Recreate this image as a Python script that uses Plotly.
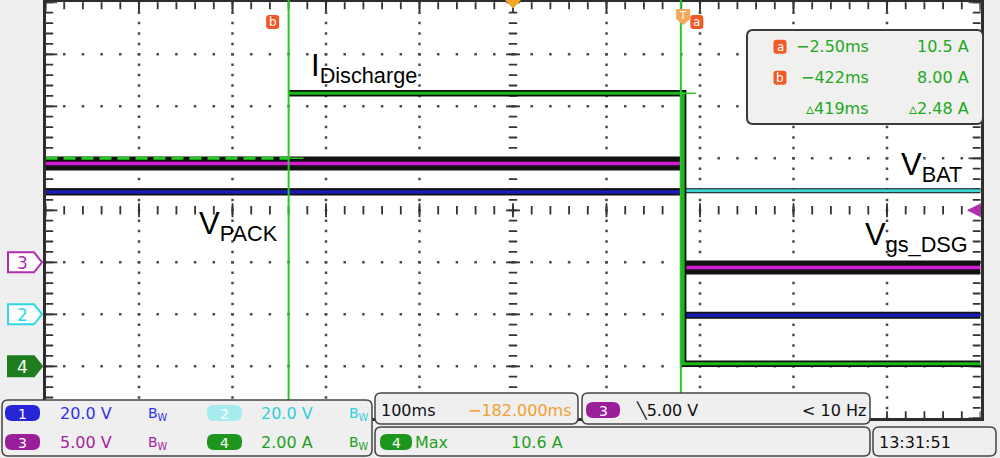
import numpy as np
import plotly.graph_objects as go

W, H = 1000, 458

# time base (ms)
time_per_div = 100
delay_ms = -182.0
t_left = delay_ms - 5 * time_per_div
t_right = delay_ms + 5 * time_per_div

# channel scale (per div) and ground position (div from centre)
ch1_scale, ch1_pos = 20.0, -2
ch2_scale, ch2_pos = 20.0, -2
ch3_scale, ch3_pos = 5.0, -1
ch4_scale, ch4_pos = 2.0, -3

# waveforms (step points, held until the next time)
t_pack = [t_left, 0.0, t_right]
v_pack = [47.0, -0.4, -0.4]
t_bat = [t_left, t_right]
v_bat = [47.5, 47.5]
t_gs = [t_left, 0.0, t_right]
v_gs = [9.5, -0.5, -0.5]
t_dis = [t_left, -422.0, 0.0, t_right]
i_dis = [8.0, 10.5, 0.1, 0.1]

# cursors a / b and their readout
cursor_t = [-2.5, -422.0]
cursor_i = [10.5, 8.0]
cursor_dt = 419
cursor_di = 2.48
trig_level = 5.0
i_max = 10.6

# screen geometry in pixels
GX0, GX1 = 45.5, 980.5
GY0, GY1 = 2.3, 418.3
DIV_PX = (GY1 - GY0) / 8


def px(x):
    return x / W


def py(y):
    return 1 - y / H


def div_to_py(d):
    return GY0 + (4 - d) * DIV_PX


def t_to_px(t):
    return GX0 + (t - t_left) / (t_right - t_left) * (GX1 - GX0)


def rrect(x0, y0, x1, y1, r):
    pts = [('M', x0 + r, y0), ('L', x1 - r, y0), ('Q', x1, y0, x1, y0 + r), ('L', x1, y1 - r),
           ('Q', x1, y1, x1 - r, y1), ('L', x0 + r, y1), ('Q', x0, y1, x0, y1 - r), ('L', x0, y0 + r),
           ('Q', x0, y0, x0 + r, y0)]
    s = ''
    for p in pts:
        coords = p[1:]
        s += p[0] + ' ' + ' '.join(f'{px(coords[i])},{py(coords[i + 1])}' for i in range(0, len(coords), 2)) + ' '
    return s + 'Z'


def poly(points):
    return 'M ' + ' L '.join(f'{px(x)},{py(y)}' for x, y in points) + ' Z'


def yr(scale, pos):
    return [scale * (-4 - pos), scale * (4 - pos)]


fig = go.Figure()


def marks(x, y, symbol, size, width=1.8, color='#333'):
    fig.add_trace(go.Scatter(x=list(x), y=list(y), mode='markers', hoverinfo='skip', showlegend=False,
                             marker=dict(symbol=symbol, size=size, color=color, line=dict(width=width, color=color))))


# graticule dots
majors_t = [delay_ms + k * time_per_div for k in range(-4, 5) if k != 0]
majors_d = [d for d in range(-3, 4) if d != 0]
minor_t = np.arange(t_left, t_right + 0.1, time_per_div / 5)
minor_d = np.arange(-4, 4.01, 0.2)
dx, dy = [], []
for t in majors_t:
    dx += [t] * len(minor_d)
    dy += list(minor_d)
for d in majors_d:
    dx += list(minor_t)
    dy += [d] * len(minor_t)
marks(dx, dy, 'square', 2.5, 0, '#4a4a4a')

# centre-line ticks
all_major_t = [delay_ms + k * time_per_div for k in range(-5, 6)]
all_major_d = list(range(-4, 5))
marks(minor_t, [0] * len(minor_t), 'line-ns', 6)
marks([delay_ms] * len(minor_d), minor_d, 'line-ew', 6)
marks(all_major_t, [0] * len(all_major_t), 'line-ns', 10)
marks([delay_ms] * len(all_major_d), all_major_d, 'line-ew', 10)

# border ticks (markers centred on the frame, clipped to the screen)
marks(minor_t, [4] * len(minor_t), 'line-ns', 10)
marks(minor_t, [-4] * len(minor_t), 'line-ns', 10)
marks([t_left] * len(minor_d), minor_d, 'line-ew', 11)
marks([t_right] * len(minor_d), minor_d, 'line-ew', 11)
marks([t_left] * len(all_major_d), all_major_d, 'line-ew', 17)
marks([t_right] * len(all_major_d), all_major_d, 'line-ew', 17)
marks(all_major_t, [4] * len(all_major_t), 'line-ns', 14)


def flat_segments(t, v):
    # horizontal pieces of a step trace, without the vertical edges
    xs, ys = [], []
    for i in range(len(t) - 1):
        xs += [t[i], t[i + 1], None]
        ys += [v[i], v[i], None]
    return xs, ys


def wave(t, v, axis, color, w_core, w_edge, edge_verticals=False):
    if edge_verticals:
        fig.add_trace(go.Scatter(x=t, y=v, yaxis=axis, mode='lines', line_shape='hv', showlegend=False,
                                 line=dict(color='#111', width=w_edge), hoverinfo='skip'))
    else:
        xs, ys = flat_segments(t, v)
        fig.add_trace(go.Scatter(x=xs, y=ys, yaxis=axis, mode='lines', showlegend=False,
                                 line=dict(color='#111', width=w_edge), hoverinfo='skip', connectgaps=False))
    fig.add_trace(go.Scatter(x=t, y=v, yaxis=axis, mode='lines', line_shape='hv', showlegend=False,
                             line=dict(color=color, width=w_core)))


wave(t_bat, v_bat, 'y2', '#3ad6d6', 3, 5)
wave(t_pack, v_pack, 'y2', '#1a1ab8', 3.5, 7)
wave(t_gs, v_gs, 'y3', '#d21ed2', 3.5, 14)
# ch4 after the step at cursor b, then the part before it as a dashed line over the ch3 band
wave(t_dis[1:], i_dis[1:], 'y4', '#18b818', 3, 6.5, edge_verticals=True)
fig.add_trace(go.Scatter(x=t_dis[:2], y=i_dis[:1] * 2, yaxis='y4', mode='lines', showlegend=False, hoverinfo='skip',
                         line=dict(color='#22cc22', width=3, dash='12px,6px')))

shapes = []
# cursor lines and their short horizontal markers
for ct, ci in zip(cursor_t, cursor_i):
    shapes.append(dict(type='line', xref='x', yref='paper', x0=ct, x1=ct, y0=py(400), y1=1,
                       line=dict(color='#2ec42e', width=2), layer='above'))
    shapes.append(dict(type='line', xref='x', yref='y4', x0=ct, x1=ct + 16, y0=ci, y1=ci,
                       line=dict(color='#2ec42e', width=1.5), layer='above'))

# top markers: horizontal position triangle and trigger T
xc = t_to_px(delay_ms)
shapes.append(dict(type='path', xref='paper', yref='paper', path=poly([(xc - 8, 0), (xc + 8, 0), (xc, 8.5)]),
                   fillcolor='#f5a623', line=dict(width=0), layer='above'))
xt = t_to_px(0)
shapes.append(dict(type='path', xref='paper', yref='paper',
                   path=poly([(xt - 7, 9), (xt + 7, 9), (xt + 7, 19), (xt, 25), (xt - 7, 19)]),
                   fillcolor='#f4a85a', line=dict(width=0), layer='above'))

# readout box
shapes.append(dict(type='path', xref='paper', yref='paper', path=rrect(747, 30, 983, 124, 6),
                   fillcolor='#f0f0ee', line=dict(color='#3a3a3a', width=2), layer='above'))

# cursor icons
icon_pos = [(t_to_px(cursor_t[0]) + 16, 22, 'a'), (t_to_px(cursor_t[1]) - 16, 22, 'b'),
            (780, 46.7, 'a'), (780, 77.7, 'b')]
for xi, yi, lab in icon_pos:
    shapes.append(dict(type='path', xref='paper', yref='paper', path=rrect(xi - 6.5, yi - 7, xi + 6.5, yi + 7, 3),
                       fillcolor='#f15a24', line=dict(width=0), layer='above'))

# channel ground markers on the left
gnd_markers = [(ch3_pos, '#b02cb0', False, '3'), (ch2_pos, '#2fd8e0', False, '2'), (ch4_pos, '#1e7e1e', True, '4')]
for pos, col, filled, lab in gnd_markers:
    yc = div_to_py(pos)
    shapes.append(dict(type='path', xref='paper', yref='paper',
                       path=poly([(8, yc - 10), (34, yc - 10), (42, yc), (34, yc + 10), (8, yc + 10)]),
                       fillcolor=col if filled else '#ffffff', line=dict(color=col, width=2), layer='above'))

# bottom readout panels
for x0, y0, x1, y1 in [(2, 400, 372, 456), (375, 393, 578, 424), (582, 393, 870, 424), (375, 427, 870, 456),
                       (873, 427, 996, 456)]:
    shapes.append(dict(type='path', xref='paper', yref='paper', path=rrect(x0, y0, x1, y1, 6),
                       fillcolor='#efefef', line=dict(color='#444', width=1.5), layer='above'))

pills = [(5, 405, 40, 421, '#2626d6', '1'), (207, 405, 242, 421, '#a6ecee', '2'),
         (5, 434, 40, 450, '#9a1f9a', '3'), (207, 434, 242, 450, '#1d961d', '4'),
         (586, 402, 620, 418, '#9a1f9a', '3'), (380, 434, 412, 450, '#1d961d', '4')]
for x0, y0, x1, y1, col, lab in pills:
    shapes.append(dict(type='path', xref='paper', yref='paper', path=rrect(x0, y0, x1, y1, 7),
                       fillcolor=col, line=dict(width=0), layer='above'))

ann = []
RO = 'DejaVu Sans'


def text(x, y, s, color, size=16, xanchor='left', family=RO):
    ann.append(dict(x=px(x), y=py(y), xref='paper', yref='paper', text=s, showarrow=False,
                    xanchor=xanchor, yanchor='middle', font=dict(family=family, size=size, color=color)))


for x0, y0, x1, y1, col, lab in pills:
    text((x0 + x1) / 2, (y0 + y1) / 2 + 0.5, lab, '#ffffff', 14, 'center')
for xi, yi, lab in icon_pos:
    text(xi, yi, lab, '#ffffff', 12, 'center')
text(xt, 15.5, 'T', '#ffffff', 10, 'center')
for pos, col, filled, lab in gnd_markers:
    text(22, div_to_py(pos) + 0.5, lab, '#ffffff' if filled else col, 17, 'center')

# cursor readout
text(871, 46.7, f'\u2212{abs(cursor_t[0]):.2f}ms', '#22a822', 16, 'right')
text(971, 46.7, f'{cursor_i[0]:.1f} A', '#22a822', 16, 'right')
text(871, 77.7, f'\u2212{abs(cursor_t[1]):.0f}ms', '#22a822', 16, 'right')
text(971, 77.7, f'{cursor_i[1]:.2f} A', '#22a822', 16, 'right')
text(871, 108.3, f'\u25b5{cursor_dt}ms', '#22a822', 16, 'right')
text(971, 108.3, f'\u25b5{cursor_di:.2f} A', '#22a822', 16, 'right')

# waveform labels
LB = 'Liberation Sans'
text(309, 68, 'I<sub>Discharge</sub>', '#000', 31, 'left', LB)
text(197, 226, 'V<sub>PACK</sub>', '#000', 31, 'left', LB)
text(899, 167, 'V<sub>BAT</sub>', '#000', 31, 'left', LB)
text(863, 237, 'V<sub>gs_DSG</sub>', '#000', 31, 'left', LB)

# bottom panel texts
text(58, 413, f'{ch1_scale:.1f} V', '#3333e6')
text(146, 414, 'B<sub>W</sub>', '#3333e6', 14)
text(259, 413, f'{ch2_scale:.1f} V', '#2ccfdc')
text(347, 414, 'B<sub>W</sub>', '#2ccfdc', 14)
text(58, 442, f'{ch3_scale:.2f} V', '#a424a4')
text(146, 443, 'B<sub>W</sub>', '#a424a4', 14)
text(259, 442, f'{ch4_scale:.2f} A', '#1f9f1f')
text(347, 443, 'B<sub>W</sub>', '#1f9f1f', 14)
text(379, 410, f'{time_per_div}ms', '#111')
text(574, 410, f'\u2212{abs(delay_ms):.3f}ms', '#f0a030', 16, 'right')
text(634, 410, f'\u2572{trig_level:.2f} V', '#111')
text(868, 410, '&lt; 10 Hz', '#111', 16, 'right')
text(413, 442, 'Max', '#1f9f1f')
text(509, 442, f'{i_max:.1f} A', '#1f9f1f')
text(877, 442, '13:31:51', '#111')

# trigger level arrow on the right edge
ann.append(dict(x=px(967), y=trig_level, xref='paper', yref='y3', ax=14, ay=0, text='', showarrow=True,
                arrowhead=2, arrowsize=0.9, arrowwidth=3, arrowcolor='#b42cb4'))

axis_common = dict(showline=True, linecolor='#2d2d2d', linewidth=2.5, mirror=True, ticks='',
                   showticklabels=False, showgrid=False, zeroline=False, fixedrange=True)

fig.update_layout(
    width=W, height=H, margin=dict(l=0, r=0, t=0, b=0),
    paper_bgcolor='#efefef', plot_bgcolor='#ffffff',
    showlegend=False, hovermode=False,
    xaxis=dict(domain=[px(GX0), px(GX1)], range=[t_left, t_right], **axis_common),
    yaxis=dict(domain=[py(GY1), py(GY0)], range=[-4, 4], **axis_common),
    yaxis2=dict(overlaying='y', range=yr(ch1_scale, ch1_pos), visible=False, fixedrange=True),
    yaxis3=dict(overlaying='y', range=yr(ch3_scale, ch3_pos), visible=False, fixedrange=True),
    yaxis4=dict(overlaying='y', range=yr(ch4_scale, ch4_pos), visible=False, fixedrange=True),
    shapes=shapes, annotations=ann,
)

fig.write_html("out.html", config={'displayModeBar': False}, post_script="document.body.style.margin='0';")
